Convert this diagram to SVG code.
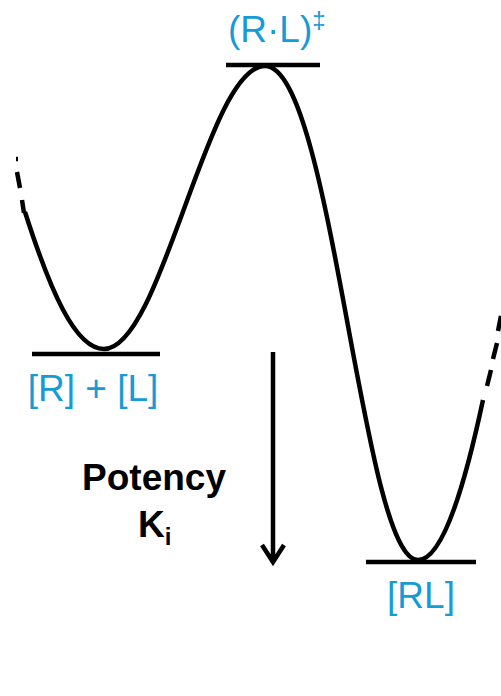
<svg xmlns="http://www.w3.org/2000/svg" width="501" height="696" viewBox="0 0 501 696">
<style>
.ln{stroke:#000;stroke-width:4.5;fill:none}
.lbl{font-family:"Liberation Sans",Arial,sans-serif;font-size:37px;fill:#169BD5}
.bk{font-family:"Liberation Sans",Arial,sans-serif;font-weight:bold;fill:#000}
</style>
<rect width="501" height="696" fill="#fff"/>
<g id="connectors">
<path class="ln" d="M 25,212 C 50,290 75,349 104,349 C 162,349 207,66 265,66 C 332,66 362,560 418,560 C 445,560 468,470 483,400"/>
<path class="ln" d="M 16,159 L 18,159 M 17,172 L 20,188 M 22,200 L 24,213"/>
<path class="ln" d="M 487,386 L 491,370 M 493,359 L 497,343 M 498,331 L 501,316"/>
<path class="ln" d="M 273,352 L 273,562 M 262,545 L 273,562 L 284,545"/>
</g>
<g id="node-free">
<line class="ln" x1="32" y1="354" x2="160" y2="354"/>
<text class="lbl" x="93" y="401" text-anchor="middle">[R] + [L]</text>
</g>
<g id="node-ts">
<line class="ln" x1="226" y1="65" x2="320" y2="65"/>
<text class="lbl" x="228" y="42">(R·L)<tspan font-size="24" dy="-14">‡</tspan></text>
</g>
<g id="node-complex">
<line class="ln" x1="366" y1="562" x2="476" y2="562"/>
<text class="lbl" x="421" y="608" text-anchor="middle">[RL]</text>
</g>
<g id="node-potency">
<text class="bk" x="154" y="490" font-size="37" text-anchor="middle">Potency</text>
<text class="bk" x="138" y="537" font-size="37">K<tspan font-size="24" dy="8">i</tspan></text>
</g>
</svg>
